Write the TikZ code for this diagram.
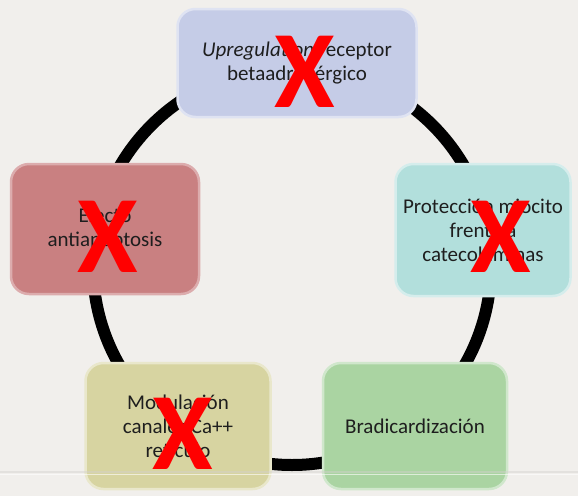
\documentclass[tikz,border=0pt]{standalone}
\usepackage{fontspec}
\setmainfont{Carlito}
\usetikzlibrary{positioning}
\definecolor{slidebg}{HTML}{F1EFEC}
\definecolor{footgray}{HTML}{D3D1CE}
\definecolor{inkgray}{HTML}{1E1E1E}
\definecolor{crossred}{HTML}{FF0000}
\definecolor{upblue}{HTML}{C5CCE7}
\definecolor{protcyan}{HTML}{B2DFDC}
\definecolor{bradgreen}{HTML}{AAD4A2}
\definecolor{modyellow}{HTML}{D7D4A1}
\definecolor{efred}{HTML}{C98081}

\begin{document}
\begin{tikzpicture}[
  x=1pt, y=-1pt,
  stage/.style={rounded corners=18pt, line width=2.5pt, align=center, inner sep=0pt,
    font=\fontsize{21}{24}\selectfont, text=inkgray},
  cross/.style={inner sep=0pt, font=\fontsize{110}{110}\selectfont\bfseries, text=crossred},
]

% Background
\useasboundingbox (0,0) rectangle (578,496);
\fill[slidebg] (0,0) rectangle (578,496);

% =============================================
% Ring behind the boxes
% =============================================
\coordinate (ring) at (292,266);
\draw[black, line width=12pt] (ring) circle[radius=199pt];

% =============================================
% Boxes
% =============================================
\node[stage, fill=upblue, draw=upblue!55!white, minimum width=239pt, minimum height=108pt]
  (upreg) at (297,63) {\textit{Upregulation} receptor\\betaadrenérgico};
\node[stage, fill=protcyan, draw=protcyan!55!white, minimum width=175pt, minimum height=132pt]
  (protec) at (483,230) {Protección miocito\\frente a\\catecolaminas};
\node[stage, fill=bradgreen, draw=bradgreen!55!white, minimum width=184pt, minimum height=126pt]
  (bradi) at (415,426) {Bradicardización};
\node[stage, fill=modyellow, draw=modyellow!55!white, minimum width=185pt, minimum height=126pt]
  (modul) at (178,426) {Modulación\\canales Ca++\\retículo};
\node[stage, fill=efred, draw=efred!65!white, minimum width=188pt, minimum height=130pt]
  (efecto) at (105,229) {Efecto\\antiapoptosis};

% Footer rule
\draw[footgray, line width=1.5pt, opacity=0.45] (0,472) -- (578,472);
\draw[white, line width=1pt, opacity=0.6] (0,474.5) -- (578,474.5);

% =============================================
% Red crosses
% =============================================
\foreach \nm/\x/\y in {upreg/305/72, protec/501/237, efecto/108/237, modul/183/434}
  \node[cross] (x\nm) at (\x,\y) {X};

\end{tikzpicture}
\end{document}
